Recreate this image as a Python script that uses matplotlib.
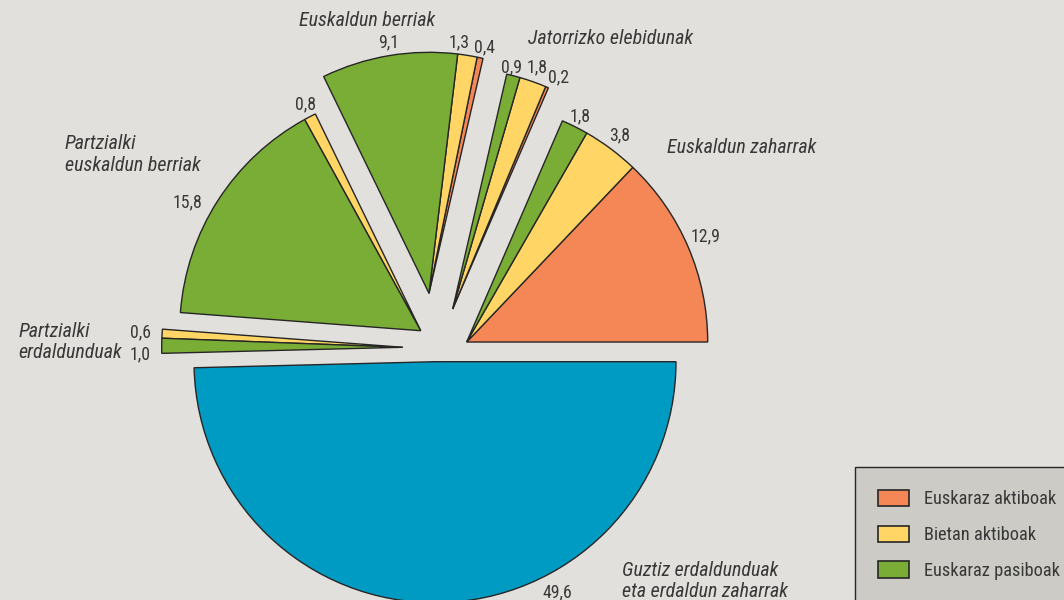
import numpy as np
import matplotlib.pyplot as plt
from matplotlib.patches import Wedge, Patch

# --- Data (%): each wedge belongs to a population group and a language-use type ---
group_names = [
    "Euskaldun zaharrak",
    "Jatorrizko elebidunak",
    "Euskaldun berriak",
    "Partzialki\neuskaldun berriak",
    "Partzialki\nerdaldunduak",
    "Guztiz erdaldunduak\neta erdaldun zaharrak",
]
wedge_values = [12.9, 3.8, 1.8, 0.2, 1.8, 0.9, 0.4, 1.3, 9.1, 0.8, 15.8, 0.6, 1.0, 49.6]
wedge_group = [0, 0, 0, 1, 1, 1, 2, 2, 2, 3, 3, 4, 4, 5]
wedge_kind = ["akt", "bie", "pas", "akt", "bie", "pas", "akt", "bie", "pas",
              "bie", "pas", "bie", "pas", "erd"]
legend_kinds = ["akt", "bie", "pas"]
legend_labels = ["Euskaraz aktiboak", "Bietan aktiboak", "Euskaraz pasiboak"]

# --- Styling ---
BG = "#e1e0dc"
LEGEND_BG = "#cccbc6"
EDGE = "#262626"
TEXT = "#383838"
kind_colors = {"akt": "#f58656", "bie": "#ffd666", "pas": "#79ad36", "erd": "#009bc3"}
FONT = ["Roboto Condensed", "DejaVu Sans"]

# pie geometry (pixels) and per-group shift of each sector block (in radius units)
R_PX = 241.0
CX_PX, CY_PX = 435.0, 361.7
W_PX, H_PX = 1064, 600
group_shift_x = [0.1315, 0.0734, -0.0249, -0.0593, -0.134, 0.0]
group_shift_y = [0.0817, 0.2187, 0.2838, 0.1286, 0.0598, 0.0]

# value-label placement: radius (radius units) and angular nudge (deg)
label_radius = [1.082, 1.066, 1.049, 1.056, 1.061, 1.03, 1.045, 1.049, 1.056,
                1.054, 1.106, 1.09, 1.089, 1.082]
label_shift = [0.6, 0.3, 0.0, -1.5, 0.2, 0.9, -0.6, 2.4, -0.3,
               -0.4, 3.9, 0.0, 1.9, 27.3]

# group titles: left x, baseline y of the last line (pixels)
group_title_px = [(667, 152.7), (528.3, 44.3), (299, 26.3), (65, 170.7),
                  (18.7, 358.3), (621.7, 597.3)]


def px(x, y):
    """Pixel position (top-left origin) -> data coordinates."""
    return (x - CX_PX) / R_PX, (CY_PX - y) / R_PX


plt.rcParams["font.family"] = FONT
fig = plt.figure(figsize=(W_PX / 100, H_PX / 100), dpi=100, facecolor=BG)
ax = fig.add_axes([0, 0, 1, 1])
ax.set_facecolor(BG)
x0, y1 = px(0, 0)
x1, y0 = px(W_PX, H_PX)
ax.set_xlim(x0, x1)
ax.set_ylim(y0, y1)
ax.set_aspect("equal")
ax.axis("off")

vals = np.asarray(wedge_values, dtype=float)
frac = vals / vals.sum()
theta_end = 360.0 * np.cumsum(frac)
theta_start = theta_end - 360.0 * frac

for i, v in enumerate(vals):
    g = wedge_group[i]
    c = (group_shift_x[g], group_shift_y[g])
    ax.add_patch(Wedge(c, 1.0, theta_start[i], theta_end[i],
                       facecolor=kind_colors[wedge_kind[i]], edgecolor=EDGE,
                       linewidth=1.0, joinstyle="miter"))
    ang = np.deg2rad(0.5 * (theta_start[i] + theta_end[i]) + label_shift[i])
    r = label_radius[i]
    ax.text(c[0] + r * np.cos(ang), c[1] + r * np.sin(ang),
            f"{v:.1f}".replace(".", ","), ha="center", va="center",
            fontsize=12.8, color=TEXT)

for name, (tx, ty) in zip(group_names, group_title_px):
    ax.text(*px(tx, ty), name, ha="left", va="baseline", fontsize=14.4,
            style="italic", color=TEXT, linespacing=1.16)

handles = [Patch(facecolor=kind_colors[k], edgecolor=EDGE, linewidth=1.2)
           for k in legend_kinds]
leg = ax.legend(handles, legend_labels, loc="upper left",
                bbox_to_anchor=(855 / W_PX, 1 - 466.7 / H_PX),
                bbox_transform=fig.transFigure, borderaxespad=0,
                fontsize=13.2, frameon=True, fancybox=False, framealpha=1,
                facecolor=LEGEND_BG, edgecolor=EDGE, borderpad=1.25,
                handlelength=1.7, handleheight=1.0, handletextpad=0.8,
                labelspacing=0.95)
leg.get_frame().set_linewidth(1.0)
for t in leg.get_texts():
    t.set_color(TEXT)

fig.savefig("out.png", dpi=100, facecolor=BG)
